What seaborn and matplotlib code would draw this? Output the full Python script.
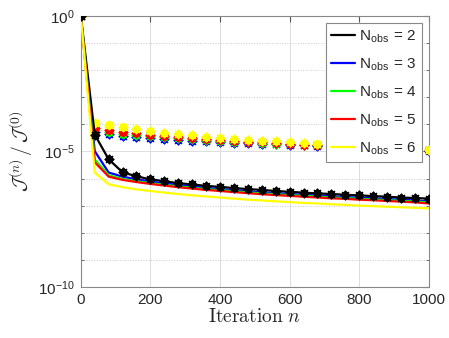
import numpy as np
import pandas as pd
import matplotlib
matplotlib.use("Agg")
import matplotlib.pyplot as plt
import seaborn as sns

iters = [0, 40, 80, 120, 160, 200, 240, 280, 320, 360, 400, 440, 480, 520, 560, 600,
         640, 680, 720, 760, 800, 840, 880, 920, 960, 1000]

# log10 of J(n)/J(0), solid lines
line_logs = {
    "2": [0, -4.38, -5.29, -5.77, -5.92, -6.03, -6.10, -6.17, -6.22, -6.27, -6.31, -6.35, -6.39,
          -6.42, -6.46, -6.49, -6.52, -6.55, -6.57, -6.60, -6.62, -6.65, -6.67, -6.70, -6.72, -6.74],
    "3": [0, -4.99, -5.78, -5.93, -6.03, -6.11, -6.18, -6.24, -6.29, -6.34, -6.39, -6.43, -6.47,
          -6.51, -6.54, -6.57, -6.60, -6.63, -6.66, -6.68, -6.71, -6.73, -6.76, -6.78, -6.81, -6.84],
    "4": [0, -5.30, -5.88, -6.02, -6.10, -6.17, -6.23, -6.29, -6.34, -6.39, -6.43, -6.47, -6.51,
          -6.55, -6.58, -6.61, -6.64, -6.67, -6.70, -6.72, -6.75, -6.77, -6.80, -6.82, -6.85, -6.88],
    "5": [0, -5.40, -5.93, -6.05, -6.13, -6.20, -6.26, -6.32, -6.37, -6.42, -6.46, -6.50, -6.54,
          -6.58, -6.61, -6.64, -6.67, -6.70, -6.73, -6.75, -6.78, -6.80, -6.83, -6.85, -6.88, -6.92],
    "6": [0, -5.78, -6.21, -6.32, -6.40, -6.46, -6.52, -6.57, -6.62, -6.66, -6.70, -6.74, -6.78,
          -6.81, -6.84, -6.87, -6.90, -6.92, -6.95, -6.97, -7.00, -7.02, -7.04, -7.06, -7.08, -7.10],
}

# log10 of marker-only series (upper cloud) for N_obs = 3..6
marker_logs = {
    "3": [0, -4.30, -4.37, -4.44, -4.48, -4.52, -4.55, -4.58, -4.61, -4.63, -4.65, -4.68, -4.70,
          -4.72, -4.74, -4.76, -4.78, -4.80, -4.82, -4.84, -4.86, -4.88, -4.90, -4.92, -4.95, -4.98],
    "4": [0, -4.22, -4.28, -4.34, -4.39, -4.44, -4.48, -4.52, -4.55, -4.58, -4.61, -4.64, -4.67,
          -4.69, -4.72, -4.74, -4.76, -4.78, -4.81, -4.83, -4.85, -4.87, -4.89, -4.91, -4.93, -4.96],
    "5": [0, -4.15, -4.21, -4.27, -4.33, -4.38, -4.43, -4.47, -4.51, -4.55, -4.58, -4.61, -4.64,
          -4.67, -4.70, -4.72, -4.75, -4.77, -4.79, -4.81, -4.84, -4.86, -4.88, -4.90, -4.92, -4.95],
    "6": [0, -3.94, -4.04, -4.10, -4.19, -4.25, -4.31, -4.36, -4.41, -4.45, -4.49, -4.53, -4.57,
          -4.60, -4.63, -4.66, -4.69, -4.72, -4.75, -4.77, -4.80, -4.83, -4.85, -4.88, -4.91, -4.95],
}

colors = {"2": "#000000", "3": "#0000ff", "4": "#00ff00", "5": "#ff0000", "6": "#ffff00"}
labels = {k: r"N$_{\mathregular{obs}}$ = " + k for k in colors}

lines_df = pd.DataFrame([
    {"n": x, "J": 10.0 ** v, "N": k}
    for k, vals in line_logs.items() for x, v in zip(iters, vals)
])
marks_df = pd.DataFrame([
    {"n": x, "J": 10.0 ** v, "N": k}
    for k, vals in marker_logs.items() for x, v in zip(iters, vals)
])
black_df = lines_df[lines_df["N"] == "2"]

sns.set_style("white")
plt.rcParams["font.family"] = ["Liberation Sans", "DejaVu Sans"]
plt.rcParams["mathtext.fontset"] = "cm"

fig = plt.figure(figsize=(4.49, 3.38), dpi=100)
ax = fig.add_axes([0.180, 0.151, 0.775, 0.802])

ast = (8, 2, 0)
for k in ["3", "4", "5", "6"]:
    sns.scatterplot(data=marks_df[marks_df["N"] == k], x="n", y="J", color=colors[k],
                    marker=ast, s=32, linewidth=1.4, edgecolor=colors[k], ax=ax,
                    legend=False, zorder=3)

for k in ["2", "3", "4", "5", "6"]:
    sns.lineplot(data=lines_df[lines_df["N"] == k], x="n", y="J", color=colors[k],
                 linewidth=1.6, ax=ax, label=labels[k], zorder=4)

sns.scatterplot(data=black_df, x="n", y="J", color="black", marker=ast, s=32,
                linewidth=1.4, edgecolor="black", ax=ax, legend=False, zorder=5)

ax.set_yscale("log")
ax.set_xlim(0, 1000)
ax.set_ylim(1e-10, 1)
ax.set_xticks([0, 200, 400, 600, 800, 1000])
ax.set_yticks([1e-10, 1e-5, 1])
ax.set_yticklabels([r"10$^{\mathregular{-10}}$", r"10$^{\mathregular{-5}}$", r"10$^{\mathregular{0}}$"])
ax.yaxis.set_minor_locator(matplotlib.ticker.FixedLocator([10.0 ** -i for i in range(1, 10)]))
ax.yaxis.set_minor_formatter(matplotlib.ticker.NullFormatter())
ax.tick_params(axis="both", which="major", labelsize=11, direction="in", length=4,
               color="#555555", pad=4, top=True, right=True)
ax.tick_params(axis="y", which="minor", direction="in", length=2, color="#555555",
               left=True, right=True)
ax.grid(True, which="major", color="#dddddd", linewidth=0.7)
ax.grid(True, which="minor", axis="y", color="#cccccc", linestyle=":", linewidth=0.7)
for s in ax.spines.values():
    s.set_color("#888888")
    s.set_linewidth(0.8)

ax.set_xlabel(r"$\mathrm{Iteration}\ n$", fontsize=14, labelpad=1)
ax.set_ylabel(r"$\mathcal{J}^{(n)}\,/\,\mathcal{J}^{(0)}$", fontsize=14, labelpad=2)

leg = ax.legend(loc="upper right", fontsize=11, frameon=True, fancybox=False,
                edgecolor="#888888", handlelength=1.6, handletextpad=0.25,
                borderpad=0.35, labelspacing=0.75, borderaxespad=0.45, framealpha=1.0)
leg.get_frame().set_linewidth(0.8)
leg.set_zorder(10)

fig.savefig("out.png", dpi=100)
